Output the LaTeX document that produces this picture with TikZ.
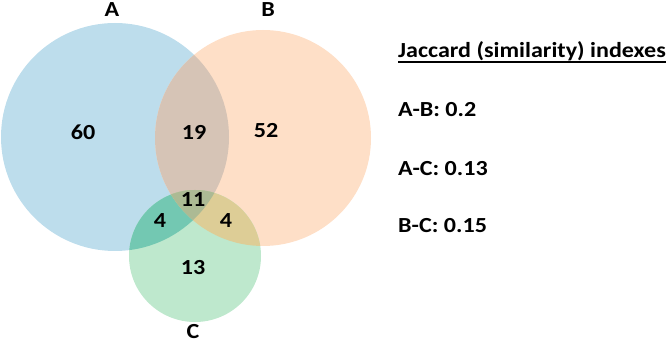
\documentclass[tikz,border=0pt]{standalone}
\usepackage{fontspec}
\setmainfont[FakeStretch=1.12]{Carlito}
\definecolor{colA}{RGB}{189,221,236}
\definecolor{colB}{RGB}{254,223,199}
\definecolor{colC}{RGB}{190,232,205}
\definecolor{colAB}{RGB}{214,196,182}
\definecolor{colAC}{RGB}{115,200,178}
\definecolor{colBC}{RGB}{221,205,150}
\definecolor{colABC}{RGB}{172,186,148}
\begin{document}
\begin{tikzpicture}[x=1pt,y=-1pt,
  lbl/.style={font=\bfseries\fontsize{21.5}{25}\selectfont, inner sep=0pt, text=black},
  side/.style={font=\bfseries\fontsize{21.5}{25}\selectfont, inner sep=0pt, anchor=base west, text=black}]
\useasboundingbox (0,0) rectangle (671,344);
\def\circA{(115,137) circle (114)}
\def\circB{(263,138) circle (108)}
\def\circC{(195,256) circle (66)}
\fill[colA] \circA;
\fill[colB] \circB;
\fill[colC] \circC;
\begin{scope}\clip \circA; \fill[colAB] \circB;\end{scope}
\begin{scope}\clip \circA; \fill[colAC] \circC;\end{scope}
\begin{scope}\clip \circB; \fill[colBC] \circC;\end{scope}
\begin{scope}\clip \circA; \clip \circB; \fill[colABC] \circC;\end{scope}
\node[lbl] (la) at (112,10) {A};
\node[lbl] (lb) at (268,10) {B};
\node[lbl] (lc) at (193,332) {C};
\node[lbl] (n60) at (83,132) {60};
\node[lbl] (n19) at (194,132) {19};
\node[lbl] (n52) at (266,131) {52};
\node[lbl] (n11) at (193,200) {11};
\node[lbl] (n4a) at (160,221) {4};
\node[lbl] (n4b) at (226,221) {4};
\node[lbl] (n13) at (193,268) {13};
\node[side] (title) at (398,58) {Jaccard (similarity) indexes};
\draw[line width=1.2pt] ([yshift=-4pt]title.base west) -- ([yshift=-4pt]title.base east);
\node[side] (ab) at (398,117) {A-B: 0.2};
\node[side] (ac) at (398,176) {A-C: 0.13};
\node[side] (bc) at (398,233) {B-C: 0.15};
\end{tikzpicture}
\end{document}
